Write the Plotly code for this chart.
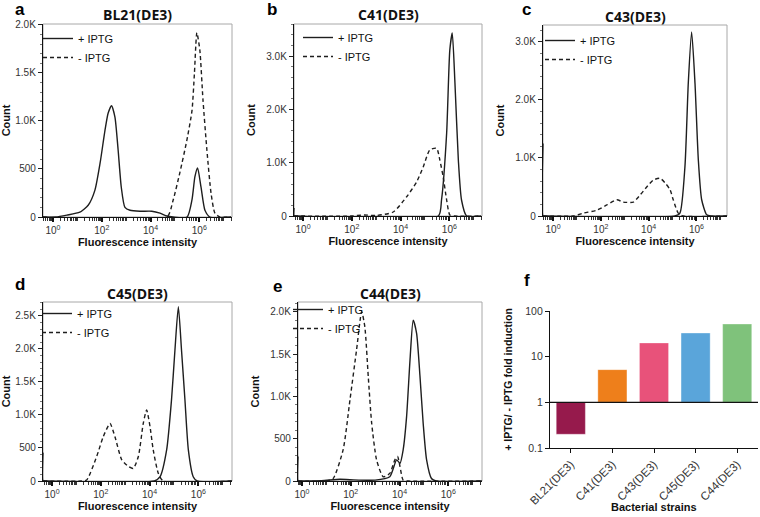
import numpy as np
import plotly.graph_objects as go

W, H = 760, 517

# ---------------- data (x values are log10 of fluorescence intensity) ----------------
a_plus_x = [-0.41, 0.1, 0.57, 1.1, 1.45, 1.72, 1.93, 2.13, 2.26, 2.4, 2.54, 2.67, 2.8, 2.95, 3.16, 3.57, 4.05, 4.39, 4.67, 4.92, 5.5, 5.7, 5.82, 5.93, 6.07, 6.23, 6.43, 7.3]
a_plus_y = [0, 0, 20, 50, 125, 280, 560, 900, 1080, 1160, 1040, 700, 310, 100, 70, 60, 60, 40, 10, 0, 0, 180, 420, 510, 310, 70, 0, 0]
a_minus_x = [-0.41, 4.67, 4.92, 5.2, 5.49, 5.7, 5.8, 5.9, 6.02, 6.15, 6.31, 6.48, 6.64, 6.84, 7.3]
a_minus_y = [0, 0, 170, 460, 800, 1110, 1500, 1920, 1740, 1220, 700, 250, 40, 0, 0]

b_plus_x = [-0.37, -0.37, -0.3, 5.55, 5.68, 5.89, 6.02, 6.12, 6.23, 6.37, 6.5, 6.71, 7.3]
b_plus_y = [150, 0, 0, 0, 300, 1550, 3110, 3430, 2500, 1050, 300, 0, 0]
b_minus_x = [-0.37, 2.0, 2.5, 3.0, 3.7, 4.25, 4.66, 4.93, 5.2, 5.48, 5.61, 5.75, 5.89, 6.02, 6.2, 7.3]
b_minus_y = [0, 0, 20, 10, 75, 360, 640, 920, 1240, 1270, 1050, 730, 300, 20, 0, 0]

c_plus_x = [-0.42, -0.42, -0.35, 5.1, 5.31, 5.52, 5.66, 5.8, 5.94, 6.08, 6.22, 6.43, 6.6, 7.28]
c_plus_y = [1250, 0, 0, 0, 50, 850, 2290, 3170, 2290, 970, 280, 20, 0, 0]
c_minus_x = [-0.42, 0.85, 1.27, 1.83, 2.25, 2.67, 2.94, 3.36, 3.64, 3.92, 4.2, 4.48, 4.69, 4.9, 5.03, 5.24, 5.45, 7.28]
c_minus_y = [0, 0, 50, 100, 190, 280, 240, 240, 360, 500, 620, 650, 570, 450, 280, 50, 0, 0]

d_plus_x = [-0.37, -0.37, -0.3, 4.2, 4.43, 4.7, 4.9, 5.04, 5.18, 5.31, 5.45, 5.59, 5.79, 5.95, 7.38]
d_plus_y = [430, 0, 0, 0, 65, 470, 1230, 1980, 2640, 1980, 1230, 470, 65, 0, 0]
d_minus_x = [-0.37, 1.2, 1.42, 1.83, 2.1, 2.38, 2.58, 2.86, 3.13, 3.33, 3.54, 3.74, 3.88, 4.02, 4.15, 4.36, 4.56, 7.38]
d_minus_y = [0, 0, 15, 370, 670, 870, 670, 320, 220, 190, 370, 870, 1075, 820, 470, 115, 0, 0]

e_plus_x = [-0.16, -0.16, -0.1, 0.8, 1.56, 1.97, 3.0, 3.6, 3.88, 4.02, 4.15, 4.29, 4.43, 4.56, 4.7, 4.84, 4.97, 5.11, 5.31, 5.5, 7.38]
e_plus_y = [290, 0, 0, 5, 20, 15, 10, 50, 250, 210, 370, 760, 1430, 1900, 1745, 1230, 680, 250, 30, 0, 0]
e_minus_x = [-0.16, 1.0, 1.28, 1.69, 1.97, 2.24, 2.45, 2.58, 2.72, 2.86, 3.06, 3.33, 3.6, 3.81, 3.92, 4.02, 4.15, 4.35, 7.38]
e_minus_y = [0, 0, 30, 370, 960, 1550, 2000, 1820, 1230, 680, 250, 50, 90, 250, 290, 170, 10, 0, 0]

strains = ["BL21(DE3)", "C41(DE3)", "C43(DE3)", "C45(DE3)", "C44(DE3)"]
fold_induction = [0.2, 5.2, 20, 33, 52]
bar_colors = ["#961A4C", "#EE7F1B", "#E8527A", "#5AA5DA", "#7FC27B"]

x_tick_exps = [0, 2, 4, 6]

# ---------------- styling helpers ----------------
FONT = "Liberation Sans, Arial, sans-serif"
LINE = "#1e1e1e"


def xdom(p0, p1):
    return [p0 / W, p1 / W]


def ydom(p0, p1):
    return [1 - p1 / H, 1 - p0 / H]


panels = [
    # title, x-domain px, y-domain px, x-range(log), y-max, y-major, y-minor, legend (x px, top px), data
    ("BL21(DE3)", (43, 232), (24, 217), (-0.41, 7.34), 2010, 500, 100, (38, 24), (a_plus_x, a_plus_y, a_minus_x, a_minus_y)),
    ("C41(DE3)", (294, 482), (24, 216), (-0.37, 7.34), 3600, 1000, 200, (298, 23), (b_plus_x, b_plus_y, b_minus_x, b_minus_y)),
    ("C43(DE3)", (543, 727), (25, 216), (-0.42, 7.28), 3290, 1000, 200, (540, 26), (c_plus_x, c_plus_y, c_minus_x, c_minus_y)),
    ("C45(DE3)", (43, 232), (302, 481), (-0.37, 7.38), 2710, 500, 100, (37, 299), (d_plus_x, d_plus_y, d_minus_x, d_minus_y)),
    ("C44(DE3)", (298, 482), (302, 481), (-0.16, 7.38), 2115, 500, 100, (288, 295), (e_plus_x, e_plus_y, e_minus_x, e_minus_y)),
]

fig = go.Figure()
layout = dict(
    width=W, height=H, margin=dict(l=0, r=0, t=0, b=0, autoexpand=False),
    paper_bgcolor="white", plot_bgcolor="white",
    font=dict(family=FONT, size=10, color="#333"),
    showlegend=True,
)
annotations = []
shapes = []


def ktext(v):
    if v == 0:
        return "0"
    if v < 1000:
        return str(int(v))
    return f"{v/1000:.1f}K"


for i, (title, xd, yd, xr, ymax, ymaj, ymin_step, lpos, data) in enumerate(panels):
    n = i + 1
    xa = "x" if n == 1 else f"x{n}"
    ya = "y" if n == 1 else f"y{n}"
    lg = "legend" if n == 1 else f"legend{n}"
    px_, py_, mx_, my_ = data
    fig.add_trace(go.Scatter(
        x=10 ** np.array(px_), y=py_, mode="lines", name="+ IPTG",
        line=dict(color=LINE, width=1.4, shape="spline", smoothing=0.6),
        xaxis=xa, yaxis=ya, legend=lg, cliponaxis=True))
    fig.add_trace(go.Scatter(
        x=10 ** np.array(mx_), y=my_, mode="lines", name="- IPTG",
        line=dict(color=LINE, width=1.4, dash="4px,3px", shape="spline", smoothing=0.6),
        xaxis=xa, yaxis=ya, legend=lg, cliponaxis=True))

    xkey = "xaxis" if n == 1 else f"xaxis{n}"
    ykey = "yaxis" if n == 1 else f"yaxis{n}"
    minor_x = [m * 10 ** d for d in range(-1, 8) for m in range(1, 10)
               if not (m == 1 and d in x_tick_exps)]
    layout[xkey] = dict(
        type="log", domain=xdom(*xd), range=list(xr), anchor=ya, automargin=False,
        tickmode="array",
        tickvals=[10 ** d for d in x_tick_exps],
        ticktext=[f"10<sup>{d}</sup>" for d in x_tick_exps],
        ticks="outside", ticklen=4, tickwidth=1.5, tickcolor="#111",
        minor=dict(tickmode="array", tickvals=minor_x, ticks="outside", ticklen=3,
                   tickwidth=1.2, tickcolor="#333", showgrid=False),
        showline=True, linecolor="#111", linewidth=1.3,
        showgrid=False, zeroline=False, fixedrange=True,
        tickfont=dict(family=FONT, size=10, color="#333"),
        title=dict(text="<b>Fluorescence intensity</b>", standoff=1,
                   font=dict(family=FONT, size=11, color="#111")),
    )
    yt = list(np.arange(0, ymax + 1, ymaj))
    layout[ykey] = dict(
        domain=ydom(*yd), range=[0, ymax], anchor=xa, automargin=False,
        tickmode="array", tickvals=yt, ticktext=[ktext(v) for v in yt],
        ticks="outside", ticklen=4, tickwidth=1, tickcolor="#222",
        minor=dict(dtick=ymin_step, ticks="outside", ticklen=2, tickcolor="#777", showgrid=False),
        showline=True, linecolor="#111", linewidth=1.3,
        showgrid=False, zeroline=False, fixedrange=True,
        tickfont=dict(family=FONT, size=10, color="#333"),
        title=dict(text="<b>Count</b>", standoff=8,
                   font=dict(family=FONT, size=11, color="#111")),
    )
    # light grey frame around each histogram
    shapes.append(dict(type="rect", xref=f"{xa} domain", yref=f"{ya} domain",
                       x0=0, x1=1, y0=0, y1=1, line=dict(color="#a8a8a8", width=1),
                       layer="below"))
    # legend inside the panel
    layout[lg] = dict(x=lpos[0] / W, y=1 - lpos[1] / H, xanchor="left", yanchor="top",
                      bgcolor="rgba(0,0,0,0)", borderwidth=0,
                      font=dict(family=FONT, size=11, color="#111"),
                      tracegroupgap=0, itemwidth=30)
    # panel title
    annotations.append(dict(text=f"<b>{title}</b>", x=(xd[0] + xd[1]) / 2 / W,
                            y=1 - (yd[0] - 9) / H, xref="paper", yref="paper",
                            showarrow=False, xanchor="center", yanchor="middle",
                            font=dict(family="Open Sans, sans-serif", size=14, color="#111")))

# ---------------- panel f: bar chart ----------------
fig.add_trace(go.Bar(
    x=strains, y=[v - 1 for v in fold_induction], base=[1] * len(strains),
    marker=dict(color=bar_colors, line=dict(color="rgba(255,255,255,0.35)", width=1)),
    width=0.7, xaxis="x6", yaxis="y6", showlegend=False,
    hovertext=[str(v) for v in fold_induction]))
layout["xaxis6"] = dict(
    domain=xdom(550, 758), anchor="y6", type="category", automargin=False,
    ticks="outside", ticklen=4, tickcolor="#111", tickangle=-45,
    showline=True, linecolor="#111", linewidth=1.3, showgrid=False, fixedrange=True,
    tickfont=dict(family=FONT, size=11.5, color="#333"),
)
layout["yaxis6"] = dict(
    domain=ydom(311, 448), anchor="x6", type="log", range=[-1, 2], automargin=False,
    tickmode="array", tickvals=[0.1, 1, 10, 100], ticktext=["0.1", "1", "10", "100"],
    ticks="outside", ticklen=4, tickcolor="#111",
    showline=True, linecolor="#111", linewidth=1.3, showgrid=False, zeroline=False,
    fixedrange=True, tickfont=dict(family=FONT, size=10.5, color="#333"),
    title=dict(text="<b>+ IPTG/ - IPTG fold induction</b>", standoff=10,
               font=dict(family=FONT, size=10.5, color="#111")),
)
shapes.append(dict(type="line", xref="x6 domain", yref="y6", x0=0, x1=1, y0=1, y1=1,
                   line=dict(color="#111", width=1.3)))
annotations.append(dict(text="<b>Bacterial strains</b>", x=654 / W, y=1 - 507 / H,
                        xref="paper", yref="paper", showarrow=False,
                        xanchor="center", yanchor="middle",
                        font=dict(family=FONT, size=11, color="#111")))

# panel letters
for letter, (lx, ly) in zip("abcdef", [(20, 9), (272, 9), (526, 9), (20, 284), (277, 286), (527, 280)]):
    annotations.append(dict(text=f"<b>{letter}</b>", x=lx / W, y=1 - ly / H, xref="paper", yref="paper",
                            showarrow=False, xanchor="center", yanchor="middle",
                            font=dict(family=FONT, size=17, color="#000")))

layout["annotations"] = annotations
layout["shapes"] = shapes
fig.update_layout(**layout)
fig.write_html("out.html", config={"displayModeBar": False},
               post_script="document.body.style.margin='0px';")
